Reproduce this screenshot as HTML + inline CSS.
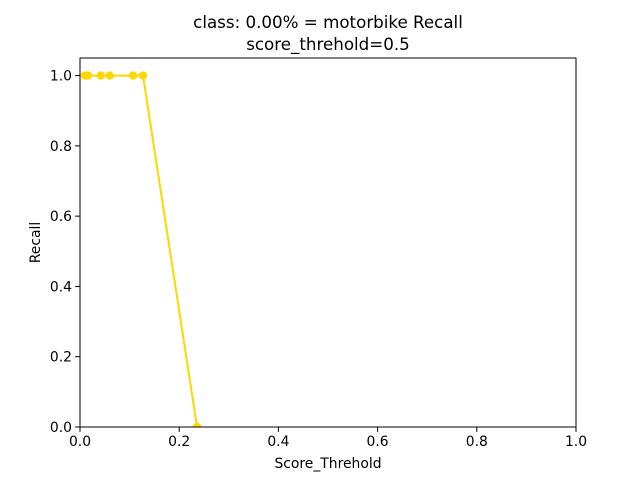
<!DOCTYPE html>
<html><head><meta charset="utf-8"><style>body{margin:0;background:#fff}svg{display:block}text{font-family:"DejaVu Sans","Liberation Sans",sans-serif;fill:#000}</style></head>
<body>
<svg id="c" width="640" height="480"></svg>
<script>
const xs=[0.010,0.016,0.042,0.060,0.107,0.127,0.236];
const ys=[1,1,1,1,1,1,0];
const xTicks=[0,0.2,0.4,0.6,0.8,1.0];
const yTicks=[0,0.2,0.4,0.6,0.8,1.0];
const L=80,R=576,T=58,B=427;
const sx=v=>L+v*(R-L), sy=v=>B-v/1.05*(B-T);
const svg=document.getElementById('c');
let s=`<defs><clipPath id="pc"><rect x="${L}" y="${T}" width="${R-L}" height="${B-T}"/></clipPath></defs>`;
xTicks.forEach(v=>{s+=`<line x1="${sx(v)}" y1="${B}" x2="${sx(v)}" y2="${B+4.9}" stroke="#000" stroke-width="1"/><text x="${sx(v)}" y="${B+19}" font-size="13.9" text-anchor="middle">${v.toFixed(1)}</text>`;});
yTicks.forEach(v=>{s+=`<line x1="${L-4.9}" y1="${sy(v)}" x2="${L}" y2="${sy(v)}" stroke="#000" stroke-width="1"/><text x="${L-8}" y="${sy(v)+5}" font-size="13.9" text-anchor="end">${v.toFixed(1)}</text>`;});
s+=`<g clip-path="url(#pc)"><polyline fill="none" stroke="#FFD700" stroke-width="2" points="${xs.map((x,i)=>sx(x)+','+sy(ys[i])).join(' ')}"/>`;
xs.forEach((x,i)=>{s+=`<circle cx="${sx(x)}" cy="${sy(ys[i])}" r="4.2" fill="#FFD700"/>`;});
s+=`</g><rect x="${L}" y="${T}" width="${R-L}" height="${B-T}" fill="none" stroke="#000" stroke-width="1"/>`;
s+=`<text x="${(L+R)/2}" y="468" font-size="13.9" text-anchor="middle">Score_Threhold</text>`;
s+=`<text transform="translate(40,${(T+B)/2}) rotate(-90)" font-size="13.9" text-anchor="middle">Recall</text>`;
s+=`<text x="${(L+R)/2}" y="28" font-size="16.7" text-anchor="middle">class: 0.00% = motorbike Recall</text>`;
s+=`<text x="${(L+R)/2}" y="50" font-size="16.7" text-anchor="middle">score_threhold=0.5</text>`;
svg.innerHTML=s;
</script>
</body></html>
